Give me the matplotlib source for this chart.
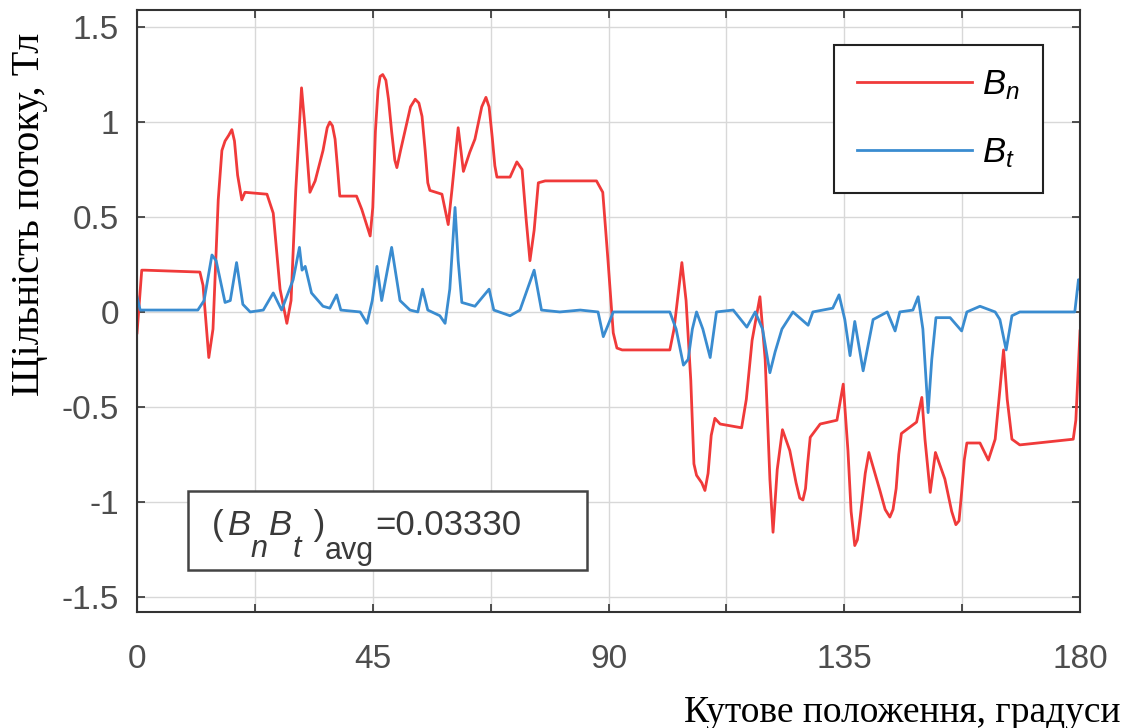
import numpy as np
import matplotlib
matplotlib.use("Agg")
import matplotlib.pyplot as plt
from matplotlib.patches import Rectangle

plt.rcParams['font.family'] = ['Liberation Sans', 'DejaVu Sans']
plt.rcParams['mathtext.fontset'] = 'custom'
plt.rcParams['mathtext.rm'] = 'Liberation Sans'
plt.rcParams['mathtext.it'] = 'Liberation Sans:italic'

# (кут, град ; Bn, Тл) - нормальна складова
bn_pts = [(0, -0.11), (0.9, 0.22), (1.5, 0.22), (12.0, 0.21), (12.6, 0.14), (13.7, -0.24), (14.5, -0.09),
          (15.5, 0.59), (16.2, 0.85), (16.8, 0.90), (17.5, 0.93), (18.1, 0.96), (18.6, 0.90), (19.2, 0.72),
          (20.0, 0.59), (20.6, 0.63), (24.8, 0.62), (26.0, 0.52), (27.3, 0.12), (28.6, -0.06), (29.4, 0.06),
          (30.3, 0.64), (31.4, 1.18), (32.1, 0.96), (33.0, 0.63), (34.0, 0.69), (35.5, 0.85), (36.3, 0.97),
          (36.8, 1.00), (37.3, 0.98), (37.8, 0.91), (38.3, 0.75), (38.7, 0.61), (41.9, 0.61), (42.9, 0.54),
          (44.5, 0.40), (45.0, 0.55), (45.5, 0.95), (46.0, 1.17), (46.4, 1.24), (46.9, 1.25), (47.5, 1.22),
          (48.0, 1.12), (48.6, 0.95), (49.2, 0.80), (49.6, 0.76), (50.3, 0.85), (51.2, 0.96), (52.2, 1.08),
          (53.1, 1.12), (53.8, 1.10), (54.4, 1.03), (55.0, 0.85), (55.5, 0.68), (55.9, 0.64), (58.2, 0.62),
          (59.4, 0.46), (60.1, 0.64), (61.3, 0.97), (62.3, 0.74), (63.5, 0.84), (64.5, 0.91), (65.8, 1.08),
          (66.6, 1.13), (67.2, 1.08), (67.8, 0.92), (68.3, 0.77), (68.7, 0.71), (71.2, 0.71), (72.5, 0.79),
          (73.5, 0.75), (74.3, 0.48), (75.0, 0.27), (75.8, 0.43), (76.6, 0.68), (77.9, 0.69), (87.7, 0.69),
          (88.9, 0.63), (89.9, 0.27), (90.9, -0.11), (91.6, -0.19), (92.6, -0.20), (101.7, -0.20),
          (102.5, -0.09), (104.0, 0.26), (104.8, 0.06), (105.7, -0.36), (106.3, -0.80), (106.8, -0.86),
          (107.8, -0.90), (108.4, -0.94), (109.0, -0.85), (109.6, -0.65), (110.3, -0.56), (111.3, -0.59),
          (115.4, -0.61), (116.3, -0.46), (117.4, -0.15), (118.9, 0.08), (119.9, -0.25), (120.8, -0.88),
          (121.4, -1.16), (122.2, -0.83), (123.2, -0.62), (124.6, -0.73), (125.8, -0.90), (126.5, -0.98),
          (127.1, -0.99), (127.6, -0.93), (128.0, -0.80), (128.5, -0.66), (130.4, -0.59), (133.6, -0.57),
          (134.8, -0.38), (135.7, -0.73), (136.3, -1.05), (137.0, -1.23), (137.5, -1.20), (138.0, -1.09),
          (139.0, -0.85), (139.7, -0.74), (141.8, -0.94), (142.8, -1.04), (143.7, -1.08), (144.3, -1.04),
          (144.9, -0.93), (145.4, -0.75), (145.9, -0.64), (148.8, -0.58), (149.8, -0.45), (150.4, -0.67),
          (151.4, -0.95), (152.4, -0.74), (154.2, -0.88), (155.5, -1.05), (156.3, -1.12), (156.9, -1.10),
          (157.4, -0.95), (157.9, -0.78), (158.4, -0.69), (160.9, -0.69), (162.5, -0.78), (163.8, -0.67),
          (164.7, -0.41), (165.4, -0.20), (166.1, -0.46), (167.0, -0.67), (168.5, -0.70), (178.7, -0.67),
          (179.2, -0.57), (180, -0.10)]

# (кут, град ; Bt, Тл) - тангенціальна складова
bt_pts = [(0, 0.08), (0.6, 0.01), (11.6, 0.01), (12.8, 0.06), (14.3, 0.30), (15.1, 0.27), (16.8, 0.05),
          (17.8, 0.06), (19.0, 0.26), (20.2, 0.04), (21.6, 0.0), (24.1, 0.01), (26.0, 0.10), (27.6, 0.01),
          (29.8, 0.17), (31.0, 0.34), (31.5, 0.22), (32.1, 0.24), (33.3, 0.10), (35.5, 0.03), (36.8, 0.02),
          (38.1, 0.09), (38.9, 0.01), (42.6, 0.0), (43.9, -0.06), (44.9, 0.06), (45.8, 0.24), (46.7, 0.06),
          (48.6, 0.34), (50.2, 0.06), (52.1, 0.01), (53.6, 0.0), (54.5, 0.12), (55.5, 0.01), (57.8, -0.02),
          (58.8, -0.06), (59.7, 0.12), (60.7, 0.55), (61.3, 0.27), (62.0, 0.05), (64.5, 0.03), (67.2, 0.12),
          (68.1, 0.01), (71.2, -0.02), (73.1, 0.01), (75.8, 0.22), (77.2, 0.01), (80.7, 0.0), (84.6, 0.01),
          (88.0, 0.0), (89.0, -0.13), (89.9, -0.07), (90.9, 0.0), (101.7, 0.0), (102.9, -0.09), (104.3, -0.28),
          (105.2, -0.25), (106.0, -0.09), (106.8, 0.0), (108.0, -0.09), (109.4, -0.24), (110.6, 0.0),
          (113.8, 0.01), (116.4, -0.08), (118.0, 0.0), (119.4, -0.09), (120.8, -0.32), (121.8, -0.21),
          (123.1, -0.09), (125.2, 0.0), (128.1, -0.07), (129.0, 0.0), (132.8, 0.02), (134.0, 0.09),
          (135.1, -0.04), (136.1, -0.23), (137.0, -0.05), (138.6, -0.31), (140.5, -0.04), (143.2, 0.0),
          (144.7, -0.10), (145.6, 0.0), (148.1, 0.01), (149.1, 0.08), (150.0, -0.09), (151.0, -0.53),
          (151.7, -0.25), (152.5, -0.03), (155.2, -0.03), (157.4, -0.10), (158.4, 0.0), (160.9, 0.03),
          (163.8, 0.0), (164.7, -0.04), (165.9, -0.20), (167.0, -0.02), (168.5, 0.0), (179.0, 0.0),
          (179.7, 0.17), (180, 0.12)]

x_ticks = [0, 22.5, 45, 67.5, 90, 112.5, 135, 157.5, 180]
x_labels = ['0', '', '45', '', '90', '', '135', '', '180']
y_ticks = [-1.5, -1, -0.5, 0, 0.5, 1, 1.5]
y_labels = ['-1.5', '-1', '-0.5', '0', '0.5', '1', '1.5']

# підпис середнього значення: (текст, курсив, зсув вниз pt, розмір, відступ pt)
avg_parts = [('(', False, 0, 25, 0), ('B', True, 0, 25, 3), ('n', True, 16, 22, 0), ('B', True, 0, 25, 1),
             ('t', True, 16, 22, 0), (' )', False, 0, 25, 2), ('avg', False, 17, 22, 0),
             ('=0.03330', False, 0, 25, 1)]

bn = np.array(bn_pts)
bt = np.array(bt_pts)

fig = plt.figure(figsize=(11.4, 7.28), dpi=100)
ax = fig.add_axes([0.1202, 0.1593, 0.8272, 0.8270])

ax.plot(bn[:, 0], bn[:, 1], color='#f03a3a', lw=2.0, solid_joinstyle='round', label=r'$\mathit{B_n}$')
ax.plot(bt[:, 0], bt[:, 1], color='#3a8cd0', lw=2.0, solid_joinstyle='round', label=r'$\mathit{B_t}$')

ax.set_xlim(0, 180)
ax.set_ylim(-1.58, 1.59)
ax.set_xticks(x_ticks)
ax.set_xticklabels(x_labels)
ax.set_yticks(y_ticks)
ax.set_yticklabels(y_labels)
ax.grid(True, color='#d8d8d8', lw=1.0)
ax.tick_params(direction='in', length=6, width=1.2, color='#333333',
               labelsize=24, labelcolor='#4d4d4d', top=True, right=True)
ax.tick_params(axis='x', pad=23)
ax.tick_params(axis='y', pad=13)
for s in ax.spines.values():
    s.set_color('#333333')
    s.set_linewidth(1.5)

leg = ax.legend(loc='upper right', bbox_to_anchor=(0.9608, 0.9419), fontsize=25,
                handlelength=3.3, labelspacing=0.98, borderpad=0.67, handletextpad=0.3,
                borderaxespad=0, fancybox=False, framealpha=1)
leg.get_frame().set_edgecolor('#222222')
leg.get_frame().set_linewidth(1.5)

# рамка з середнім значенням добутку
ax.add_patch(Rectangle((0.054, 0.070), 0.423, 0.131, transform=ax.transAxes, fc='white',
                       ec='#444444', lw=1.8, zorder=3))
prev = None
for txt, ital, drop, size, gap in avg_parts:
    style = 'italic' if ital else 'normal'
    if prev is None:
        prev = ax.text(0.0795, 0.128, txt, transform=ax.transAxes, fontsize=size, style=style,
                       color='#3a3a3a', ha='left', va='baseline', zorder=4)
    else:
        prev = ax.annotate(txt, xy=(1, 0.128), xycoords=(prev, 'axes fraction'),
                           xytext=(gap, -drop), textcoords='offset points', fontsize=size,
                           style=style, color='#3a3a3a', ha='left', va='baseline', zorder=4)

fig.text(0.026, 0.705, 'Щільність потоку, Тл', rotation=90, ha='center', va='center',
         fontsize=29, family=['Liberation Serif', 'DejaVu Serif'])
fig.text(0.983, 0.008, 'Кутове положення, градуси', ha='right', va='baseline',
         fontsize=27, family=['Liberation Serif', 'DejaVu Serif'])

fig.savefig('out.png', dpi=100)
